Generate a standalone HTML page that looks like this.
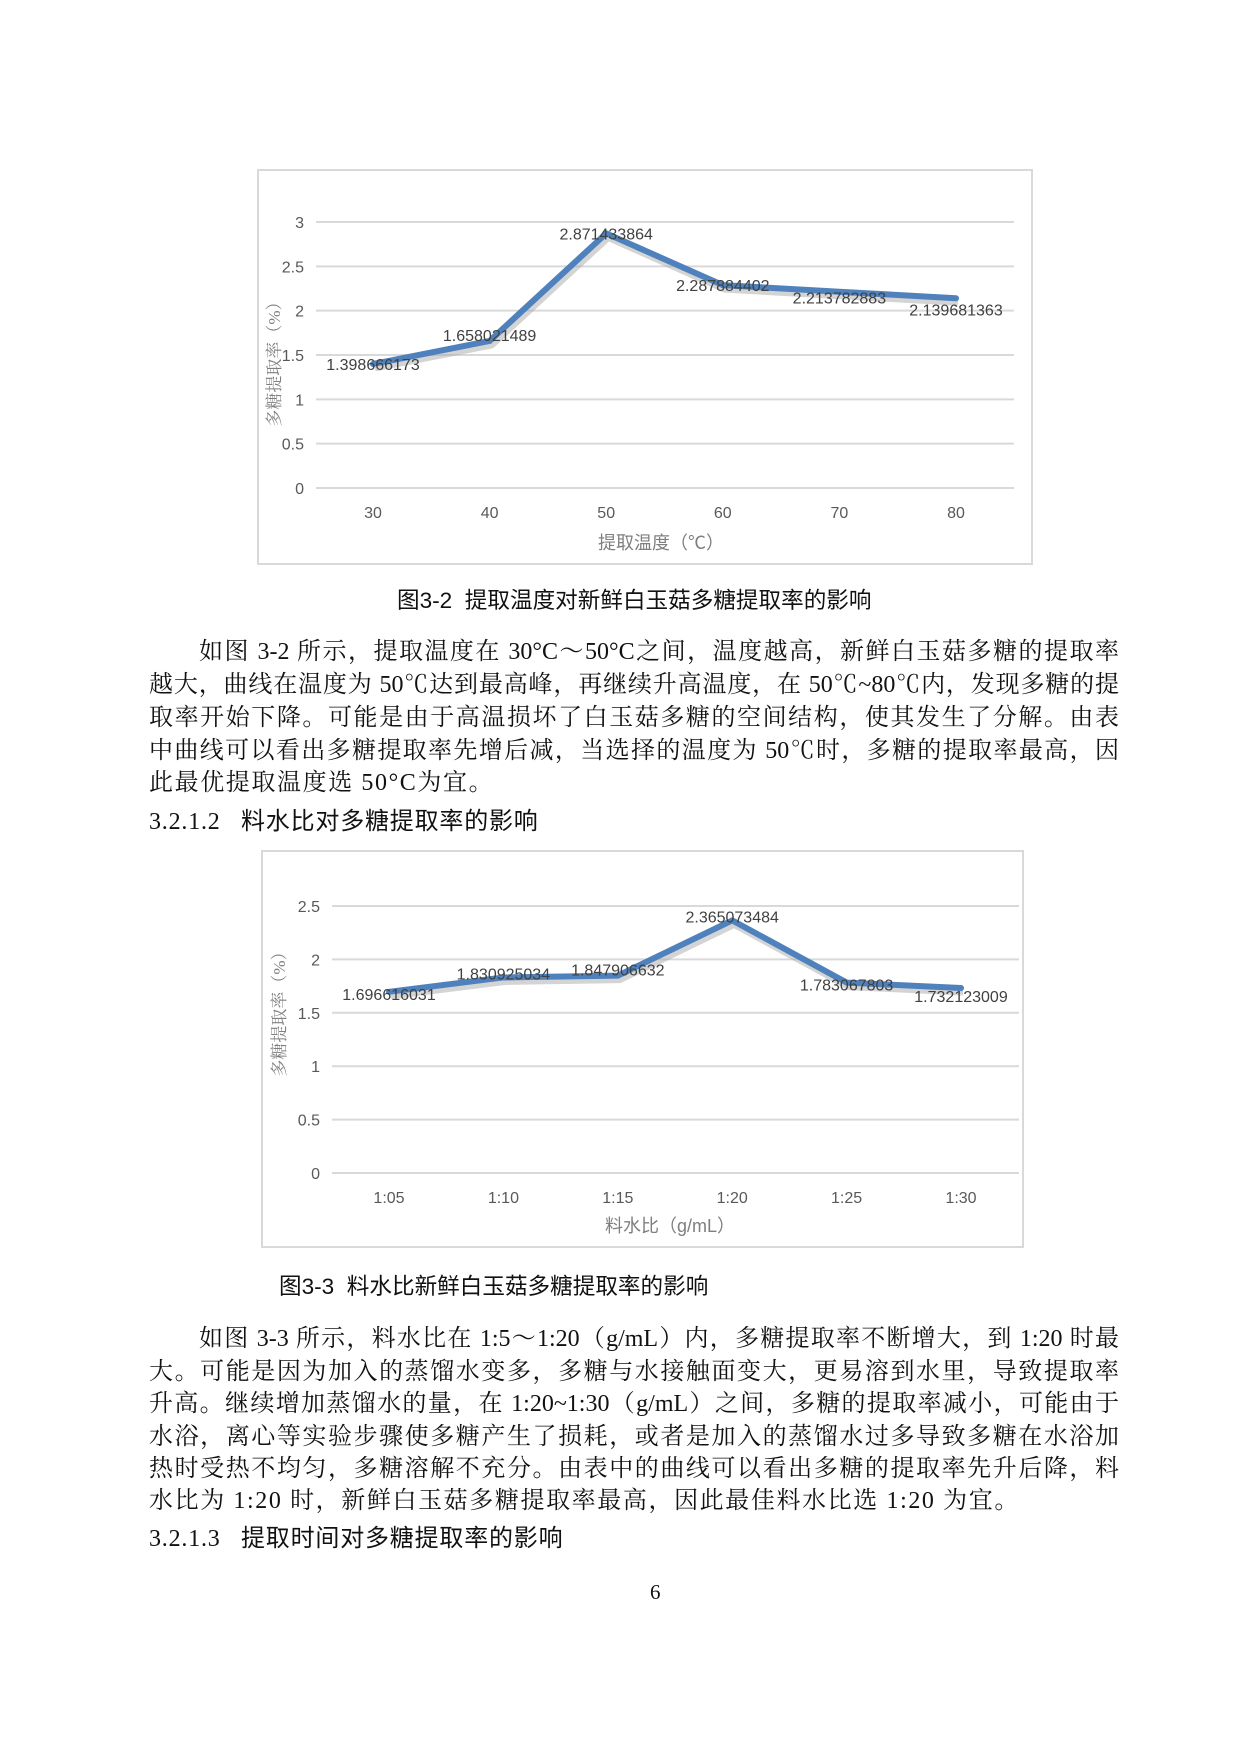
<!DOCTYPE html>
<html><head><meta charset="utf-8">
<style>
body{margin:0;background:#fff;width:1240px;height:1754px;position:relative;overflow:hidden;font-family:"Liberation Serif","Noto Serif CJK SC",serif;color:#111}
.l{position:absolute;left:149px;width:970px;font-size:24px;line-height:30px;white-space:nowrap;text-align:justify;text-align-last:justify}
.l.ind{left:199px;width:920px}
.l.last{text-align-last:left;letter-spacing:1.6px}
.cap{position:absolute;font-family:"Liberation Sans","Noto Sans CJK SC",sans-serif;font-size:22.6px;white-space:nowrap}
.h{position:absolute;left:149px;font-size:24px;letter-spacing:0.8px;white-space:nowrap;font-family:"Liberation Serif","Noto Sans CJK SC",serif}
svg{position:absolute;left:0;top:0}
</style></head><body>
<svg id="svg" width="1240" height="1754"></svg>

<div class="cap" style="left:397px;top:582px">图3-2&nbsp; 提取温度对新鲜白玉菇多糖提取率的影响</div>
<div>
<div class="l ind" style="top:637px">如图 3-2 所示，提取温度在 30°C～50°C之间，温度越高，新鲜白玉菇多糖的提取率</div>
<div class="l" style="top:670px">越大，曲线在温度为 50℃达到最高峰，再继续升高温度，在 50℃~80℃内，发现多糖的提</div>
<div class="l" style="top:703px">取率开始下降。可能是由于高温损坏了白玉菇多糖的空间结构，使其发生了分解。由表</div>
<div class="l" style="top:736px">中曲线可以看出多糖提取率先增后减，当选择的温度为 50℃时，多糖的提取率最高，因</div>
<div class="l last" style="top:768px">此最优提取温度选 50°C为宜。</div>
</div>
<div class="h" style="top:801px">3.2.1.2&nbsp;&nbsp; 料水比对多糖提取率的影响</div>
<div class="cap" style="left:279px;top:1268px">图3-3&nbsp; 料水比新鲜白玉菇多糖提取率的影响</div>
<div>
<div class="l ind" style="top:1324px">如图 3-3 所示，料水比在 1:5～1:20（g/mL）内，多糖提取率不断增大，到 1:20 时最</div>
<div class="l" style="top:1357px">大。可能是因为加入的蒸馏水变多，多糖与水接触面变大，更易溶到水里，导致提取率</div>
<div class="l" style="top:1389px">升高。继续增加蒸馏水的量，在 1:20~1:30（g/mL）之间，多糖的提取率减小，可能由于</div>
<div class="l" style="top:1422px">水浴，离心等实验步骤使多糖产生了损耗，或者是加入的蒸馏水过多导致多糖在水浴加</div>
<div class="l" style="top:1454px">热时受热不均匀，多糖溶解不充分。由表中的曲线可以看出多糖的提取率先升后降，料</div>
<div class="l last" style="top:1486px">水比为 1:20 时，新鲜白玉菇多糖提取率最高，因此最佳料水比选 1:20 为宜。</div>
</div>
<div class="h" style="top:1518px">3.2.1.3&nbsp;&nbsp; 提取时间对多糖提取率的影响</div>
<div style="position:absolute;left:650px;top:1580px;font-size:21px">6</div>

<script>
const cats1=['30','40','50','60','70','80'];
const vals1=[1.398666173,1.658021489,2.871433864,2.287884402,2.213782883,2.139681363];
const labels1=['1.398666173','1.658021489','2.871433864','2.287884402','2.213782883','2.139681363'];
const ticks1=[0,0.5,1,1.5,2,2.5,3];
const tickLabels1=['0','0.5','1','1.5','2','2.5','3'];
const cats2=['1:05','1:10','1:15','1:20','1:25','1:30'];
const vals2=[1.696616031,1.830925034,1.847906632,2.365073484,1.783067803,1.732123009];
const labels2=['1.696616031','1.830925034','1.847906632','2.365073484','1.783067803','1.732123009'];
const ticks2=[0,0.5,1,1.5,2,2.5];
const tickLabels2=['0','0.5','1','1.5','2','2.5'];

const NS='http://www.w3.org/2000/svg';
const svg=document.getElementById('svg');
function mk(tag,attrs,text){const e=document.createElementNS(NS,tag);for(const k in attrs)e.setAttribute(k,attrs[k]);if(text!==undefined)e.textContent=text;svg.appendChild(e);return e;}

function chart(o){
  const box=mk('rect',{x:o.bx,y:o.by,width:o.bw,height:o.bh,fill:'#fff',stroke:'#d9d9d9','stroke-width':2});
  
  
  const ymax=o.ticks[o.ticks.length-1];
  const yS=v=>o.y0+(o.yTop-o.y0)*v/ymax;
  const xS=i=>o.cx0+i*o.step;
  o.ticks.forEach((t,i)=>{
    const g=mk('line',{x1:o.px0,x2:o.px1,y1:yS(t),y2:yS(t),stroke:'#d9d9d9','stroke-width':2});
    
    
    const l=mk('text',{x:o.ylx,y:yS(t)+6,'text-anchor':'end','font-size':16,fill:'#595959','font-family':'Liberation Sans, sans-serif'},o.tickLabels[i]);
    
    
  });
  o.cats.forEach((c,i)=>{
    const l=mk('text',{x:xS(i),y:o.y0+30,'text-anchor':'middle','font-size':16,fill:'#595959','font-family':'Liberation Sans, sans-serif'},c);
    
    
  });
  const pts=o.vals.map((v,i)=>xS(i)+','+yS(v)).join(' ');
  const sh=mk('polyline',{points:o.vals.map((v,i)=>(xS(i)+2)+','+(yS(v)+4)).join(' '),fill:'none',stroke:'#aaa','stroke-width':7,'stroke-opacity':0.5,'stroke-linejoin':'round'});
  
  
  const ln=mk('polyline',{points:pts,fill:'none',stroke:'#4f81bd','stroke-width':6,'stroke-linejoin':'round','stroke-linecap':'round'});
  
  
  o.vals.forEach((v,i)=>{
    const l=mk('text',{x:xS(i),y:yS(v)+o.lo[i],'text-anchor':'middle','font-size':16,fill:'#404040','font-family':'Liberation Sans, sans-serif'},o.labels[i]);
    
    
  });
  const xt=mk('text',{x:o.xtx,y:o.xty,'text-anchor':'middle','font-size':18,fill:'#7f7f7f','font-family':'Liberation Sans, Noto Sans CJK SC, sans-serif'},o.xtitle);
  
  
  const yt=mk('text',{x:0,y:0,'text-anchor':'middle','font-size':17,fill:'#7f7f7f','font-family':'Liberation Serif, Noto Serif CJK SC, serif',transform:'translate('+o.ytx+','+o.yty+') rotate(-90)'},'多糖提取率（%）');
  
  
}
chart({name:'temperature-chart',bx:258,by:170,bw:774,bh:394,y0:488,yTop:222,px0:316,px1:1014,cx0:373,step:116.6,ylx:304,
  ticks:ticks1,tickLabels:tickLabels1,cats:cats1,vals:vals1,labels:labels1,lo:[6,0,6,6,12,17],
  xtitle:'提取温度（℃）',xtx:661,xty:549,ytx:280,yty:360});
chart({name:'ratio-chart',bx:262,by:851,bw:761,bh:396,y0:1173,yTop:906,px0:332,px1:1019,cx0:389,step:114.4,ylx:320,
  ticks:ticks2,tickLabels:tickLabels2,cats:cats2,vals:vals2,labels:labels2,lo:[8,2,0,2,8,14],
  xtitle:'料水比（g/mL）',xtx:670,xty:1232,ytx:285,yty:1010});
</script>
</body></html>
